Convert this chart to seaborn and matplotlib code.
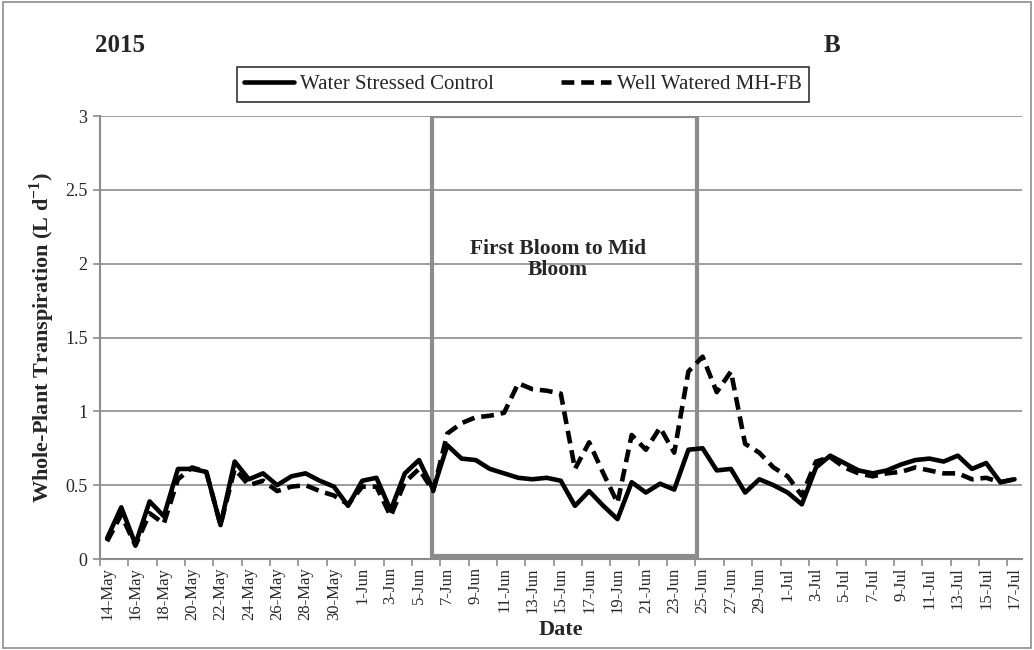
import numpy as np
import pandas as pd
import matplotlib
matplotlib.use("Agg")
import matplotlib.pyplot as plt
from matplotlib.patches import Rectangle
import seaborn as sns

# Daily dates, 14-May to 17-Jul 2015
dates = pd.date_range("2015-05-14", "2015-07-17", freq="D")
date_labels = [f"{d.day}-{d.strftime('%b')}" for d in dates]

water_stressed_control = [
    0.14, 0.35, 0.10, 0.39, 0.29, 0.61, 0.61, 0.59, 0.23, 0.66,
    0.54, 0.58, 0.50, 0.56, 0.58, 0.53, 0.49, 0.36, 0.53, 0.55,
    0.33, 0.58, 0.67, 0.47, 0.77, 0.68, 0.67, 0.61, 0.58, 0.55,
    0.54, 0.55, 0.53, 0.36, 0.46, 0.36, 0.27, 0.52, 0.45, 0.51,
    0.47, 0.74, 0.75, 0.60, 0.61, 0.45, 0.54, 0.50, 0.45, 0.37,
    0.62, 0.70, 0.65, 0.60, 0.58, 0.60, 0.64, 0.67, 0.68, 0.66,
    0.70, 0.61, 0.65, 0.52, 0.54,
]
well_watered_mhfb = [
    0.12, 0.30, 0.09, 0.31, 0.24, 0.54, 0.62, 0.59, 0.23, 0.61,
    0.50, 0.53, 0.46, 0.49, 0.50, 0.46, 0.43, 0.37, 0.49, 0.49,
    0.29, 0.52, 0.61, 0.46, 0.85, 0.92, 0.96, 0.97, 0.99, 1.19,
    1.15, 1.14, 1.12, 0.61, 0.79, 0.58, 0.38, 0.84, 0.74, 0.89,
    0.72, 1.27, 1.37, 1.13, 1.27, 0.78, 0.72, 0.62, 0.56, 0.43,
    0.66, 0.69, 0.62, 0.58, 0.56, 0.58, 0.59, 0.62, 0.60, 0.58,
    0.58, 0.54, 0.55, 0.52, 0.54,
]

series_names = ["Water Stressed Control", "Well Watered MH-FB"]

# First bloom to mid bloom window (in day-index units)
bloom_start, bloom_end = 22.9, 41.6

n = len(dates)
df = pd.DataFrame({
    "day": np.concatenate([np.arange(n), np.arange(n)]),
    "value": water_stressed_control + well_watered_mhfb,
    "series": [series_names[0]] * n + [series_names[1]] * n,
})

sns.set_theme(style="white")
SERIF = ["Liberation Serif", "DejaVu Serif"]
plt.rcParams["font.family"] = SERIF
plt.rcParams["mathtext.fontset"] = "custom"
plt.rcParams["mathtext.rm"] = "Liberation Serif"
plt.rcParams["mathtext.bf"] = "Liberation Serif:bold"

fig = plt.figure(figsize=(10.34, 6.5), dpi=100)
ax = fig.add_axes([0.0967, 0.140, 0.8913, 0.6815])

grey = "#8c8c8c"
dash_pat = (2.8, 1.5)
sns.lineplot(
    data=df, x="day", y="value", style="series",
    dashes={series_names[0]: "", series_names[1]: dash_pat},
    color="black", linewidth=3.3, ax=ax, legend=False,
)

# Bloom period box
ax.add_patch(Rectangle((bloom_start, 0.02), bloom_end - bloom_start, 2.98,
                       fill=False, edgecolor=grey, linewidth=3, zorder=1))
ax.text(31.8, 2.03, "First Bloom to Mid\nBloom",
        ha="center", va="center", fontsize=15.5, fontweight="bold",
        linespacing=1.05, family=SERIF)

ax.set_xlim(-0.5, n - 0.5)
ax.set_ylim(0, 3)
ax.set_yticks([0, 0.5, 1, 1.5, 2, 2.5, 3])
ax.set_yticklabels(["0", "0.5", "1", "1.5", "2", "2.5", "3"], fontsize=13,
                   family=SERIF)
ax.yaxis.grid(True, color=grey, linewidth=1.2)
ax.set_axisbelow(True)

ax.set_xticks(np.arange(0, n, 2))
ax.set_xticklabels(date_labels[::2], rotation=90, fontsize=12, family=SERIF)
ax.set_xticks(np.arange(-0.5, n, 2), minor=True)
ax.tick_params(axis="x", which="major", length=0, pad=6)
ax.tick_params(axis="x", which="minor", length=5, width=1.2, color=grey,
               direction="out", bottom=True)
ax.tick_params(axis="y", length=5, width=1.2, color=grey, direction="out",
               left=True, pad=4)

for side in ["top", "right"]:
    ax.spines[side].set_visible(False)
for side in ["left", "bottom"]:
    ax.spines[side].set_color(grey)
    ax.spines[side].set_linewidth(1.5)

ax.set_xlabel("Date", fontsize=16, fontweight="bold", labelpad=0, family=SERIF)
ax.set_ylabel(r"Whole-Plant Transpiration (L d$^{\mathbf{-1}}$)",
              fontsize=16, fontweight="bold", labelpad=6, family=SERIF)

fig.text(0.092, 0.93, "2015", fontsize=18, fontweight="bold",
         ha="left", va="center", family=SERIF)
fig.text(0.797, 0.93, "B", fontsize=18, fontweight="bold",
         ha="left", va="center", family=SERIF)

handles = [
    plt.Line2D([], [], color="black", linewidth=3.3),
    plt.Line2D([], [], color="black", linewidth=3.3, linestyle=(0, dash_pat)),
]
leg = fig.legend(handles, series_names, loc="center", ncol=2,
                 bbox_to_anchor=(0.506, 0.870), frameon=True,
                 prop={"family": SERIF, "size": 15},
                 fancybox=False, edgecolor="black", handlelength=2.4,
                 columnspacing=3.2, borderpad=0.35, handletextpad=0.3,
                 borderaxespad=0.0)
leg.get_frame().set_linewidth(1.2)

# Outer chart-area border
fig.add_artist(Rectangle((0.003, 0.003), 0.994, 0.994, transform=fig.transFigure,
                         fill=False, edgecolor=grey, linewidth=1.2))

fig.savefig("out.png", dpi=100)
